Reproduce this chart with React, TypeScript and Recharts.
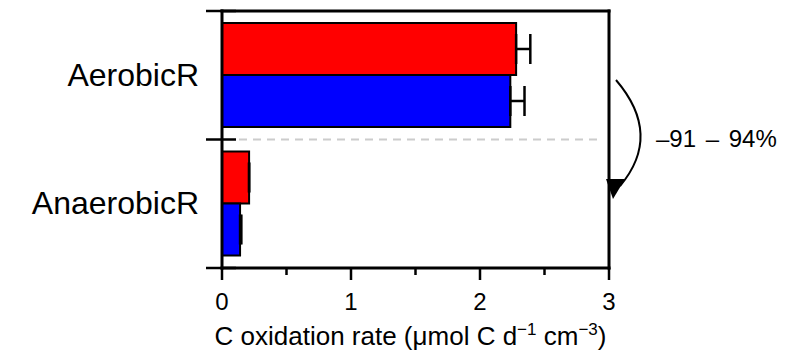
import { BarChart, Bar, XAxis, YAxis, ErrorBar } from "recharts";

const categories = ["AerobicR", "AnaerobicR"];
const redValues = [2.28, 0.21];
const redErrors = [0.11, 0];
const blueValues = [2.235, 0.14];
const blueErrors = [0.11, 0.01];
const xTicks = [0, 0.5, 1, 1.5, 2, 2.5, 3];

const data = categories.map((name, i) => ({
  name,
  red: redValues[i],
  redErr: [0, redErrors[i]],
  blue: blueValues[i],
  blueErr: [0, blueErrors[i]],
}));

// layout
const W = 807;
const H = 354;
const PLOT_LEFT = 222;
const PLOT_RIGHT = 609;
const PLOT_TOP = 11;
const PLOT_BOTTOM = 268;
const BAND = (PLOT_BOTTOM - PLOT_TOP) / categories.length;
const FONT = "'Liberation Sans', Arial, Helvetica, sans-serif";
const frameLine = { stroke: "#000", strokeWidth: 3, strokeLinecap: "square" as const };

const YTick = (props: any) => {
  const { x, y, payload, index } = props;
  const half = BAND / 2;
  const last = index === categories.length - 1;
  return (
    <g>
      <text x={x} y={y + 10.5} textAnchor="end" fontSize={32} fontFamily={FONT} fill="#000">
        {payload.value}
      </text>
      <line x1={PLOT_LEFT - 16} x2={PLOT_LEFT + 14} y1={y - half} y2={y - half} stroke="#000" strokeWidth={2.5} />
      {last && (
        <line x1={PLOT_LEFT - 16} x2={PLOT_LEFT + 14} y1={y + half} y2={y + half} stroke="#000" strokeWidth={2.5} />
      )}
      {index > 0 && (
        <line
          x1={PLOT_LEFT + 17}
          x2={PLOT_RIGHT - 6}
          y1={y - half}
          y2={y - half}
          stroke="#cccccc"
          strokeWidth={2}
          strokeDasharray="8 6"
        />
      )}
    </g>
  );
};

const XTick = (props: any) => {
  const { x, y, payload } = props;
  const major = Number.isInteger(payload.value);
  return (
    <g>
      <line x1={x} x2={x} y1={y} y2={y + (major ? 12 : 7)} stroke="#000" strokeWidth={2.5} />
      {major && (
        <text x={x} y={y + 42} textAnchor="middle" fontSize={24} fontFamily={FONT} fill="#000">
          {payload.value}
        </text>
      )}
    </g>
  );
};

const XTitle = (props: any) => {
  const vb = props.viewBox || { x: PLOT_LEFT, width: PLOT_RIGHT - PLOT_LEFT };
  const cx = vb.x + vb.width / 2 - 5;
  return (
    <text x={cx} y={345} textAnchor="middle" fontSize={26} fontFamily={FONT} fill="#000">
      C oxidation rate (μmol C d
      <tspan dy={-10} fontSize={17}>−1</tspan>
      <tspan dy={10}> cm</tspan>
      <tspan dy={-10} fontSize={17}>−3</tspan>
      <tspan dy={10}>)</tspan>
    </text>
  );
};

export default function App() {
  return (
    <div style={{ position: "relative", width: W, height: H }}>
      <style>{"body{margin:0}"}</style>
      <BarChart
        width={W}
        height={H}
        data={data}
        layout="vertical"
        margin={{ top: PLOT_TOP - 1, right: W - PLOT_RIGHT - 1, bottom: 0, left: 0 }}
        barCategoryGap={12}
        barGap={0}
      >
        <XAxis
          type="number"
          domain={[0, 3]}
          ticks={xTicks}
          interval={0}
          height={H - PLOT_BOTTOM}
          axisLine={frameLine}
          tickLine={false}
          tickSize={0}
          tickMargin={0}
          tick={<XTick />}
          label={<XTitle />}
        />
        <XAxis
          xAxisId="top"
          orientation="top"
          type="number"
          domain={[0, 3]}
          height={1}
          tick={false}
          tickLine={false}
          axisLine={frameLine}
        />
        <YAxis
          type="category"
          dataKey="name"
          width={PLOT_LEFT}
          axisLine={frameLine}
          tickLine={false}
          tickSize={0}
          tickMargin={23}
          tick={<YTick />}
        />
        <YAxis
          yAxisId="right"
          orientation="right"
          type="category"
          dataKey="name"
          width={1}
          tick={false}
          tickLine={false}
          axisLine={frameLine}
        />
        <Bar dataKey="red" fill="#ff0000" stroke="#000" strokeWidth={2} isAnimationActive={false}>
          <ErrorBar dataKey="redErr" direction="x" width={15} stroke="#000" strokeWidth={2.5} />
        </Bar>
        <Bar dataKey="blue" fill="#0000ff" stroke="#000" strokeWidth={2} isAnimationActive={false}>
          <ErrorBar dataKey="blueErr" direction="x" width={15} stroke="#000" strokeWidth={2.5} />
        </Bar>
      </BarChart>
      <svg
        width={W}
        height={H}
        style={{ position: "absolute", left: 0, top: 0, pointerEvents: "none" }}
      >
        <path d="M616 80 Q663 135 620 186" fill="none" stroke="#000" strokeWidth={2} />
        <polygon points="606,179 625,179 613,199" fill="#000" />
        <text x={656} y={147} fontSize={24} fontFamily={FONT} fill="#000" wordSpacing={3}>
          –91 – 94%
        </text>
      </svg>
    </div>
  );
}
